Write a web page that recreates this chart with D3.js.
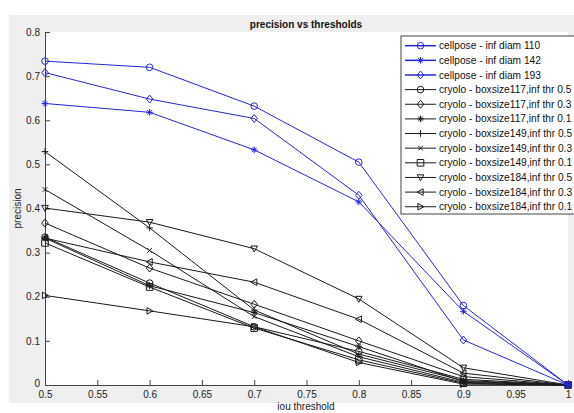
<!DOCTYPE html>
<html>
<head>
<meta charset="utf-8">
<script src="https://cdn.jsdelivr.net/npm/d3@7"></script>
<style>
  body { margin: 0; background: #fff; }
  svg text { font-family: "Liberation Sans", Arial, sans-serif; }
</style>
</head>
<body>
<div id="chart"></div>
<script>
// data
const thresholds = [0.5, 0.6, 0.7, 0.8, 0.9, 1];
const seriesNames = [
  "cellpose - inf diam 110", "cellpose - inf diam 142", "cellpose - inf diam 193",
  "cryolo - boxsize117,inf thr 0.5", "cryolo - boxsize117,inf thr 0.3", "cryolo - boxsize117,inf thr 0.1",
  "cryolo - boxsize149,inf thr 0.5", "cryolo - boxsize149,inf thr 0.3", "cryolo - boxsize149,inf thr 0.1",
  "cryolo - boxsize184,inf thr 0.5", "cryolo - boxsize184,inf thr 0.3", "cryolo - boxsize184,inf thr 0.1"
];
const cellpose110 = [0.734, 0.720, 0.632, 0.505, 0.180, 0];
const cellpose142 = [0.638, 0.618, 0.533, 0.415, 0.167, 0];
const cellpose193 = [0.708, 0.648, 0.604, 0.430, 0.102, 0];
const cryolo117_05 = [0.335, 0.231, 0.132, 0.076, 0.013, 0];
const cryolo117_03 = [0.367, 0.265, 0.183, 0.100, 0.019, 0];
const cryolo117_01 = [0.333, 0.225, 0.164, 0.087, 0.008, 0];
const cryolo149_05 = [0.529, 0.356, 0.170, 0.070, 0.010, 0];
const cryolo149_03 = [0.443, 0.305, 0.155, 0.064, 0.006, 0];
const cryolo149_01 = [0.322, 0.222, 0.129, 0.057, 0.004, 0];
const cryolo184_05 = [0.401, 0.369, 0.309, 0.195, 0.039, 0];
const cryolo184_03 = [0.333, 0.279, 0.233, 0.149, 0.027, 0];
const cryolo184_01 = [0.203, 0.168, 0.132, 0.051, 0.002, 0];
const xTicks = [0.5, 0.55, 0.6, 0.65, 0.7, 0.75, 0.8, 0.85, 0.9, 0.95, 1];
const yTicks = [0, 0.1, 0.2, 0.3, 0.4, 0.5, 0.6, 0.7, 0.8];

const allSeries = [cellpose110, cellpose142, cellpose193,
  cryolo117_05, cryolo117_03, cryolo117_01,
  cryolo149_05, cryolo149_03, cryolo149_01,
  cryolo184_05, cryolo184_03, cryolo184_01];
const markers = ["circle", "star", "diamond", "circle", "diamond", "star",
  "plus", "times", "square", "tridown", "trileft", "triright"];

const W = 574, H = 413;
const m = {left: 45, right: 6, top: 32, bottom: 28};

let svg = d3.select("#chart").append("svg")
  .attr("width", W).attr("height", H);

// figure background
svg.append("rect").attr("x", 9).attr("y", 15).attr("width", W - 9).attr("height", 388)
  .attr("fill", "#efefef");

let x = d3.scaleLinear().domain([0.5, 1]).range([m.left, W - m.right]);
let y = d3.scaleLinear().domain([0, 0.8]).range([H - m.bottom, m.top]);

// axes background
svg.append("rect").attr("x", m.left).attr("y", m.top)
  .attr("width", x(1) - m.left).attr("height", y(0) - m.top)
  .attr("fill", "#fff");

// axes
let xAxis = svg.append("g").attr("transform", `translate(0,${y(0)})`)
  .call(d3.axisTop(x).tickValues(xTicks).tickSize(5).tickFormat(d3.format("")));
xAxis.selectAll("text").attr("y", 6).attr("dy", "0.71em");
let yAxis = svg.append("g").attr("transform", `translate(${m.left},0)`)
  .call(d3.axisRight(y).tickValues(yTicks).tickSize(5).tickFormat(d3.format("")));
yAxis.selectAll("text").attr("x", -5).attr("text-anchor", "end");
yAxis.selectAll(".tick").filter(d => d === 0).select("text").attr("dy", "0.1em");
svg.selectAll(".domain").attr("stroke", "#444");
svg.selectAll(".tick line").attr("stroke", "#444");
svg.selectAll(".tick text").attr("font-size", 10).attr("fill", "#222")
  .attr("font-family", "'Liberation Sans', Arial, sans-serif");

// labels
svg.append("text").attr("x", 306).attr("y", 28).attr("text-anchor", "middle")
  .attr("font-size", 10).attr("font-weight", "bold").attr("fill", "#111")
  .text("precision vs thresholds");
svg.append("text").attr("x", 306).attr("y", 410).attr("text-anchor", "middle")
  .attr("font-size", 10).attr("fill", "#222").text("iou threshold");
svg.append("text").attr("transform", `translate(21,${(y(0) + y(0.8)) / 2}) rotate(-90)`)
  .attr("text-anchor", "middle").attr("font-size", 10).attr("fill", "#222")
  .text("precision");

function markerPath(type, r) {
  switch (type) {
    case "circle": return `M${-r},0A${r},${r} 0 1,0 ${r},0A${r},${r} 0 1,0 ${-r},0Z`;
    case "diamond": return `M0,${-r * 1.2}L${r},0L0,${r * 1.2}L${-r},0Z`;
    case "square": return `M${-r},${-r}H${r}V${r}H${-r}Z`;
    case "plus": return `M0,${-r}V${r}M${-r},0H${r}`;
    case "times": return `M${-r * 0.7},${-r * 0.7}L${r * 0.7},${r * 0.7}M${-r * 0.7},${r * 0.7}L${r * 0.7},${-r * 0.7}`;
    case "star": return `M0,${-r}V${r}M${-r},0H${r}M${-r * 0.7},${-r * 0.7}L${r * 0.7},${r * 0.7}M${-r * 0.7},${r * 0.7}L${r * 0.7},${-r * 0.7}`;
    case "tridown": return `M${-r},${-r * 0.8}H${r}L0,${r}Z`;
    case "trileft": return `M${r * 0.8},${-r}V${r}L${-r},0Z`;
    case "triright": return `M${-r * 0.8},${-r}V${r}L${r},0Z`;
  }
}

let line = d3.line().x((d, i) => x(thresholds[i])).y(d => y(d));

// draw cryolo first, cellpose on top
let order = [3, 4, 5, 6, 7, 8, 9, 10, 11, 0, 1, 2];
order.forEach(k => {
  let vals = allSeries[k];
  let col = k < 3 ? "#2525dd" : "#1a1a1a";
  svg.append("path").datum(vals).attr("d", line)
    .attr("fill", "none").attr("stroke", col).attr("stroke-width", 1);
  svg.selectAll(null).data(vals).enter().append("path")
    .attr("transform", (d, i) => `translate(${x(thresholds[i])},${y(d)})`)
    .attr("d", markerPath(markers[k], 3.3))
    .attr("fill", "none").attr("stroke", col).attr("stroke-width", 1);
});

// legend
let lg = svg.append("g");
lg.append("rect").attr("x", 401).attr("y", 36).attr("width", 180).attr("height", 178)
  .attr("fill", "#fff").attr("stroke", "#444").attr("stroke-width", 1);
seriesNames.forEach((name, k) => {
  let yy = 45.7 + k * 14.64;
  let col = k < 3 ? "#2525dd" : "#1a1a1a";
  lg.append("line").attr("x1", 405).attr("x2", 436).attr("y1", yy).attr("y2", yy)
    .attr("stroke", col).attr("stroke-width", k < 3 ? 1.5 : 1);
  lg.append("path").attr("transform", `translate(420.5,${yy})`)
    .attr("d", markerPath(markers[k], 3.3))
    .attr("fill", "none").attr("stroke", col).attr("stroke-width", 1);
  lg.append("text").attr("x", 439).attr("y", yy).attr("dy", "0.35em")
    .attr("font-size", 10.2).attr("fill", "#111").text(name);
});
</script>
</body>
</html>
